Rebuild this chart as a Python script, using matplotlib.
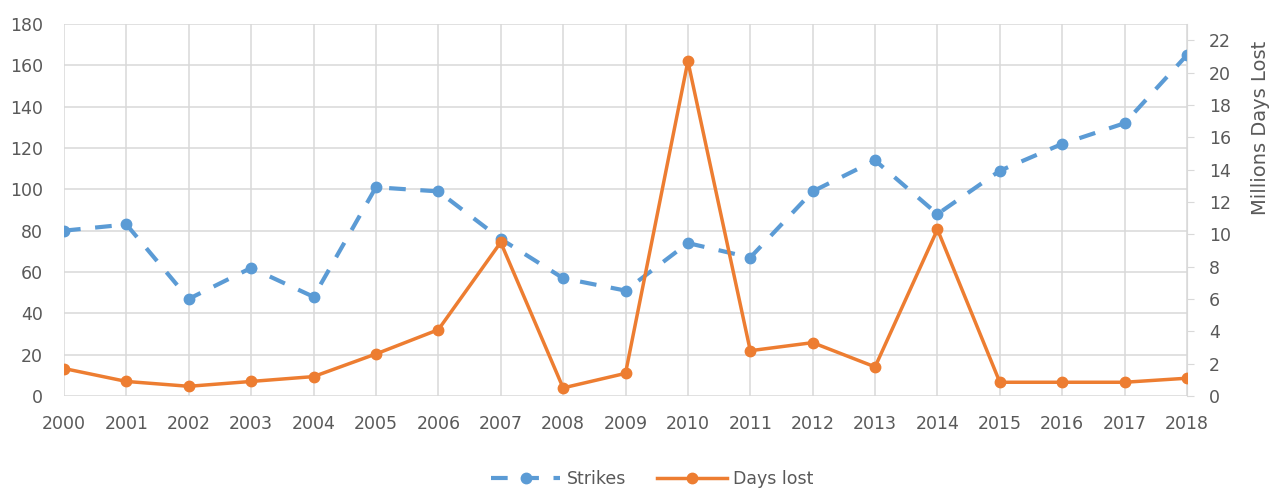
import matplotlib
matplotlib.use("Agg")
import matplotlib.pyplot as plt

years = [str(y) for y in range(2000, 2019)]
strikes = [80, 83, 47, 62, 48, 101, 99, 76, 57, 51, 74, 67, 99, 114, 88, 109, 122, 132, 165]
days_lost = [1.7, 0.9, 0.6, 0.9, 1.2, 2.6, 4.1, 9.5, 0.5, 1.4, 20.7, 2.8, 3.3, 1.8, 10.3, 0.85, 0.85, 0.85, 1.1]
left_ticks = list(range(0, 181, 20))
right_ticks = list(range(0, 23, 2))

blue = "#5B9BD5"
orange = "#ED7D31"
grid_c = "#D9D9D9"
text_c = "#595959"

plt.rcParams['font.family'] = ['DejaVu Sans']
fs = 12.5
fig = plt.figure(figsize=(12.72, 4.93), dpi=100)
ax = fig.add_axes([64/1272, 97/493, (1187-64)/1272, (396-24)/493])
ax2 = ax.twinx()

x = list(range(len(years)))
l1, = ax.plot(x, strikes, color=blue, lw=3, ls=(0, (4, 3.5)), marker='o', ms=7.5,
              label='Strikes', zorder=3)
l2, = ax2.plot(x, days_lost, color=orange, lw=2.5, marker='o', ms=7.5, label='Days lost', zorder=3)

ax.set_xlim(0, len(years) - 1)
ax.set_ylim(0, 180)
ax2.set_ylim(0, 23)
ax.set_xticks(x)
ax.set_xticklabels(years)
ax.set_yticks(left_ticks)
ax2.set_yticks(right_ticks)

ax.grid(True, color=grid_c, lw=1.1)
ax.set_axisbelow(True)
for a in (ax, ax2):
    for s in a.spines.values():
        s.set_visible(False)
ax2.spines['right'].set_visible(True)
ax2.spines['right'].set_color(grid_c)

ax.tick_params(axis='both', length=0, labelsize=fs, colors=text_c)
ax.tick_params(axis='x', pad=14)
ax.tick_params(axis='y', pad=15)
ax2.tick_params(axis='y', length=5, color=grid_c, labelsize=fs, labelcolor=text_c, pad=11)

fig.text(1260/1272, (493-128)/493, 'Millions Days Lost', rotation=90, ha='center', va='center',
         fontsize=14, color=text_c)

fig.legend(handles=[l1, l2], loc='center', bbox_to_anchor=(652/1272, 14/493), ncol=2,
           frameon=False, fontsize=fs, labelcolor=text_c, handlelength=4.0,
           handletextpad=0.35, columnspacing=1.8)

fig.savefig('out.png', dpi=100)
